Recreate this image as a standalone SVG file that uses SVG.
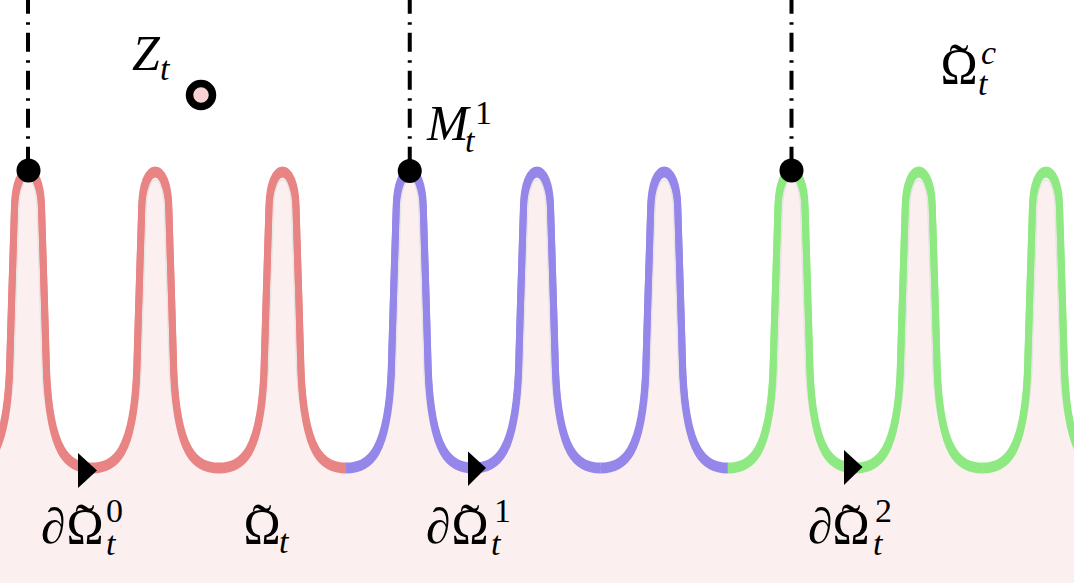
<svg xmlns="http://www.w3.org/2000/svg" xmlns:xlink="http://www.w3.org/1999/xlink" width="1074" height="583" viewBox="0 0 1074 583">
<style>
.fill{fill:#fcefef;stroke:none}
.hair{fill:none;stroke:#e3e3e3;stroke-width:1.1}
.crv{fill:none;stroke-width:7}
.red{stroke:#e98484}
.blue{stroke:#9587ea}
.green{stroke:#8fe983}
.dd{stroke:#000;stroke-width:4;fill:none;stroke-dasharray:19 8.5 2.5 8;stroke-dashoffset:5.3}
.dot{fill:#000}
.m{font-family:"Liberation Serif","Times New Roman",serif;font-size:50px;fill:#000}
.s{font-size:34px}
.it{font-style:italic}
.tl{font-size:58px}
.mid{text-anchor:middle}
</style>
<defs>
<path id="p" d="M -63.7,466 C -40,466 -22,452 -18.5,370 C -17,320 -15,250 -13.5,205 C -13,184 -7,170 0,170 C 7,170 13,184 13.5,205 C 15,250 17,320 18.5,370 C 22,452 40,466 63.7,466"/>
<path id="g" d="M -63.7,468 C -40,468 -18,452 -14,370 C -12.5,320 -10.5,250 -9,208 C -8.5,190 -4.5,180 0,180 C 4.5,180 8.5,190 9,208 C 10.5,250 12.5,320 14,370 C 18,452 40,468 63.7,468"/>
<g id="seg"><use href="#p"/><use href="#p" y="4"/></g>
</defs>
<rect width="1074" height="583" fill="#fff"/>
<g id="region">
<rect class="fill" x="0" y="464" width="1074" height="119"/>
<g class="fill">
<use href="#p" x="28"/><use href="#p" x="155.25"/><use href="#p" x="282.5"/>
<use href="#p" x="409.75"/><use href="#p" x="537"/><use href="#p" x="664.25"/>
<use href="#p" x="791.5"/><use href="#p" x="918.75"/><use href="#p" x="1046"/>
</g>
<g class="hair">
<use href="#g" x="28"/><use href="#g" x="155.25"/><use href="#g" x="282.5"/>
<use href="#g" x="409.75"/><use href="#g" x="537"/><use href="#g" x="664.25"/>
<use href="#g" x="791.5"/><use href="#g" x="918.75"/><use href="#g" x="1046"/>
</g>
</g>
<g id="connectors">
<g id="boundary0" class="crv red">
<use href="#seg" x="28"/><use href="#seg" x="155.25"/><use href="#seg" x="282.5"/>
</g>
<g id="boundary1" class="crv blue">
<use href="#seg" x="409.75"/><use href="#seg" x="537"/><use href="#seg" x="664.25"/>
</g>
<g id="boundary2" class="crv green">
<use href="#seg" x="791.5"/><use href="#seg" x="918.75"/><use href="#seg" x="1046"/>
</g>
<path class="dd" d="M28,0 V170"/>
<path class="dd" d="M409.75,0 V170"/>
<path class="dd" d="M791.5,0 V170"/>
<polygon points="78,453 97,470.5 78,488" fill="#000"/>
<polygon points="468,451.5 486,468 468,486" fill="#000"/>
<polygon points="844,450 862.5,467 844,485" fill="#000"/>
</g>
<g id="M0"><circle class="dot" cx="28.5" cy="170.5" r="12"/></g>
<g id="M1"><circle class="dot" cx="409.75" cy="171" r="12"/>
<text class="m it" x="427" y="140">M</text><text class="m s it" x="465" y="152">t</text><text class="m s" x="475" y="124">1</text></g>
<g id="M2"><circle class="dot" cx="791.5" cy="170.5" r="12"/></g>
<g id="Zt"><circle cx="201" cy="95" r="11.5" fill="#f8d2d2" stroke="#000" stroke-width="7.5"/>
<text class="m it" x="132" y="70">Z</text><text class="m s it" x="160" y="80">t</text></g>
<g id="OmegaC">
<text class="m mid" x="959" y="83">Ω<tspan class="tl" x="959" y="83">˜</tspan></text>
<text class="m s it" x="981" y="64">c</text><text class="m s it" x="978" y="95">t</text></g>
<g id="Omega">
<text class="m mid" x="262" y="543">Ω<tspan class="tl" x="262" y="543">˜</tspan></text>
<text class="m s it" x="279" y="553">t</text></g>
<g id="dOmega0">
<text class="m it" x="41" y="543">∂</text>
<text class="m mid" x="85" y="543">Ω<tspan class="tl" x="85" y="543">˜</tspan></text>
<text class="m s" x="106" y="522">0</text><text class="m s it" x="106" y="555">t</text></g>
<g id="dOmega1">
<text class="m it" x="426" y="543">∂</text>
<text class="m mid" x="470" y="543">Ω<tspan class="tl" x="470" y="543">˜</tspan></text>
<text class="m s" x="494" y="522">1</text><text class="m s it" x="491" y="555">t</text></g>
<g id="dOmega2">
<text class="m it" x="808" y="543">∂</text>
<text class="m mid" x="851" y="543">Ω<tspan class="tl" x="851" y="543">˜</tspan></text>
<text class="m s" x="875" y="522">2</text><text class="m s it" x="873" y="555">t</text></g>
</svg>
